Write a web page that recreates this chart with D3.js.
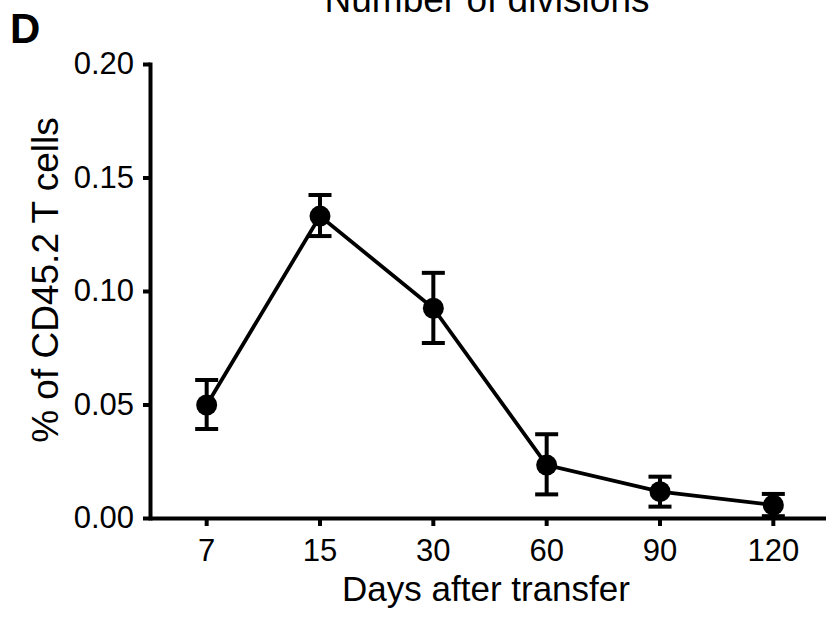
<!DOCTYPE html>
<html>
<head>
<meta charset="utf-8">
<script src="https://cdn.jsdelivr.net/npm/d3@7"></script>
<style>
  body { margin: 0; background: #fff; }
  svg text { font-family: "Liberation Sans", Arial, sans-serif; fill: #000; }
</style>
</head>
<body>
<div id="chart"></div>
<script>
// data
const days = ["7", "15", "30", "60", "90", "120"];
const meanVals = [0.0498, 0.1330, 0.0924, 0.0233, 0.0116, 0.0057];
const lowVals  = [0.0392, 0.1242, 0.0771, 0.0104, 0.0050, 0.0008];
const highVals = [0.0608, 0.1423, 0.1080, 0.0369, 0.0182, 0.0106];
const yTicks = [0, 0.05, 0.10, 0.15, 0.20];

const width = 826, height = 621;
const margin = {top: 64, right: -4, bottom: 103, left: 150};

const svg = d3.select("#chart").append("svg")
    .attr("width", width)
    .attr("height", height);

const g = svg.append("g")
    .attr("transform", "translate(" + margin.left + "," + margin.top + ")");

const w = width - margin.left - margin.right;
const h = height - margin.top - margin.bottom;

// scales
const x = d3.scaleBand().domain(days).range([0, w]).padding(0);
const y = d3.scaleLinear().domain([0, 0.2]).range([h, 0]);

const data = days.map((d, i) => ({day: d, mean: meanVals[i], lo: lowVals[i], hi: highVals[i]}));
const cx = d => x(d.day) + x.bandwidth() / 2;

// axes
const yAxis = d3.axisLeft(y).tickValues(yTicks).tickFormat(d3.format(".2f"))
    .tickSize(7).tickSizeOuter(0).tickPadding(9);
const xAxis = d3.axisBottom(x).tickSize(8).tickSizeOuter(0).tickPadding(13);

const yG = g.append("g").call(yAxis);
const xG = g.append("g").attr("transform", "translate(0," + h + ")").call(xAxis);

[yG, xG].forEach(a => {
    a.selectAll("path, line").attr("stroke", "#000").attr("stroke-width", 4);
    a.selectAll("text").style("font-size", "31px");
});
yG.select(".domain").attr("stroke-linecap", "square");

// line
const line = d3.line().x(cx).y(d => y(d.mean));
g.append("path")
    .datum(data)
    .attr("d", line)
    .attr("fill", "none")
    .attr("stroke", "#000")
    .attr("stroke-width", 3.8);

// error bars
const capW = 11.5;
const eb = g.selectAll(".err").data(data).enter().append("g").attr("class", "err")
    .attr("stroke", "#000").attr("stroke-width", 4);
eb.append("line")
    .attr("x1", cx).attr("x2", cx)
    .attr("y1", d => y(d.lo)).attr("y2", d => y(d.hi));
eb.append("line")
    .attr("x1", d => cx(d) - capW).attr("x2", d => cx(d) + capW)
    .attr("y1", d => y(d.hi)).attr("y2", d => y(d.hi));
eb.append("line")
    .attr("x1", d => cx(d) - capW).attr("x2", d => cx(d) + capW)
    .attr("y1", d => y(d.lo)).attr("y2", d => y(d.lo));

// points
g.selectAll(".pt").data(data).enter().append("circle")
    .attr("class", "pt")
    .attr("cx", cx)
    .attr("cy", d => y(d.mean))
    .attr("r", 10.5)
    .attr("fill", "#000");

// labels
svg.append("text")
    .attr("x", 487).attr("y", 12)
    .attr("text-anchor", "middle")
    .style("font-size", "37px")
    .text("Number of divisions");

svg.append("text")
    .attr("x", 10).attr("y", 43)
    .style("font-size", "42px")
    .style("font-weight", "bold")
    .text("D");

svg.append("text")
    .attr("transform", "translate(58,280) rotate(-90)")
    .attr("text-anchor", "middle")
    .style("font-size", "37px")
    .text("% of CD45.2 T cells");

svg.append("text")
    .attr("x", 486).attr("y", 601)
    .attr("text-anchor", "middle")
    .style("font-size", "35px")
    .text("Days after transfer");
</script>
</body>
</html>
